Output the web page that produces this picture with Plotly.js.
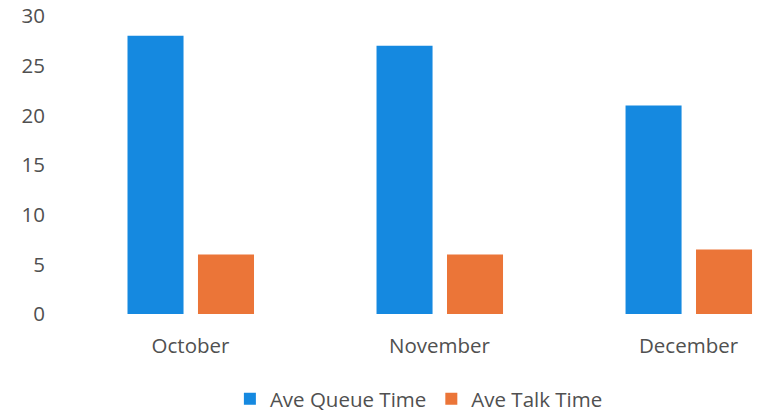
<!DOCTYPE html>
<html>
<head>
<meta charset="utf-8">
<script src="https://cdn.plot.ly/plotly-3.0.1.min.js"></script>
<style>html,body{margin:0;padding:0;background:#fff;}#chart{width:763px;height:414px;}</style>
</head>
<body>
<div id="chart"></div>
<script>
const categories = ["October", "November", "December"];
const queueTime = [28, 27, 21];
const talkTime = [6, 6, 6.5];
const seriesNames = ["Ave Queue Time", "Ave Talk Time"];
const yTicks = [0, 5, 10, 15, 20, 25, 30];

const font = {family: "Open Sans, sans-serif", size: 20.5, color: "#505050"};

const traces = [
  {type: "bar", name: seriesNames[0], x: categories, y: queueTime,
   width: 0.225, offset: -0.253, marker: {color: "#1589e0"}},
  {type: "bar", name: seriesNames[1], x: categories, y: talkTime,
   width: 0.225, offset: 0.030, marker: {color: "#eb7538"}}
];

const layout = {
  width: 763, height: 414,
  margin: {l: 65, r: 0, t: 16, b: 100, autoexpand: false},
  paper_bgcolor: "#ffffff", plot_bgcolor: "#ffffff",
  font: font,
  showlegend: true,
  barmode: "overlay",
  xaxis: {type: "category", range: [-0.504, 2.299], showgrid: false, zeroline: false,
          showline: false, ticks: "", ticklabelstandoff: 17, tickfont: font, fixedrange: true,
          automargin: false},
  yaxis: {range: [0, 30], tickvals: yTicks, showgrid: false, zeroline: false, showline: false,
          ticks: "", ticklabelstandoff: 19, tickfont: font, fixedrange: true, automargin: false},
  legend: {orientation: "h", x: 0.507, xanchor: "center", y: -0.285, yanchor: "middle",
           font: font, itemwidth: 30, traceorder: "normal"}
};

Plotly.newPlot("chart", traces, layout, {displayModeBar: false, staticPlot: true});
</script>
</body>
</html>
